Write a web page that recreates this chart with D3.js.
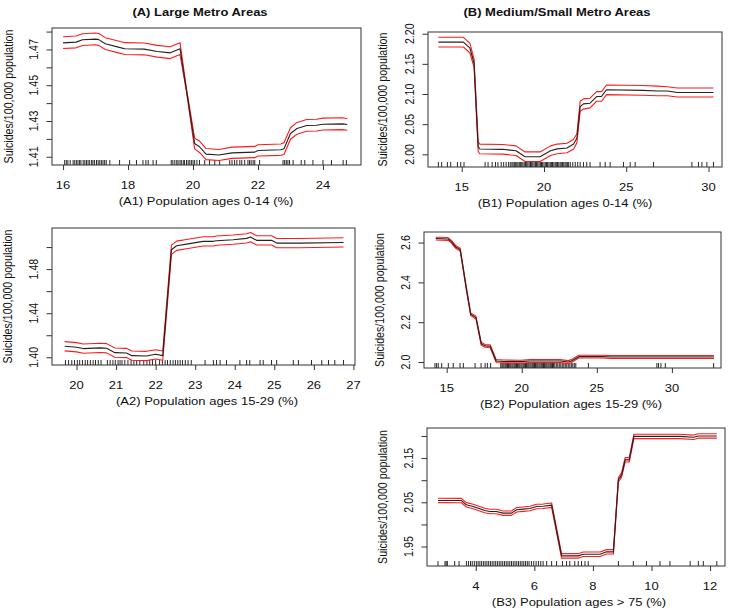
<!DOCTYPE html>
<html><head><meta charset="utf-8">
<script src="https://cdn.jsdelivr.net/npm/d3@7"></script>
<style>html,body{margin:0;padding:0;background:#fff;}svg{display:block;}text{font-family:"Liberation Sans",Arial,Helvetica,sans-serif;fill:#111;}</style>
</head><body>
<svg id="chart" width="733" height="615"></svg>
<script>
// ---------- DATA ----------
const groupTitles = ["(A) Large Metro Areas", "(B) Medium/Small Metro Areas"];
const yAxisTitle = "Suicides/100,000 population";

// A1: Large metro, ages 0-14
const a1X   = [16.0,16.4,16.6,17.0,17.1,17.3,17.7,17.9,18.5,18.9,19.3,19.6,19.8,20.05,20.2,20.4,20.8,21.2,21.9,22.0,22.7,22.8,23.0,23.2,23.5,23.8,24.0,24.6,24.75];
const a1Mid = [1.4737,1.4741,1.4754,1.4758,1.4755,1.4732,1.4713,1.4704,1.4702,1.4689,1.4681,1.4704,1.4470,1.4174,1.4156,1.4115,1.4110,1.4122,1.4126,1.4135,1.4139,1.4145,1.4230,1.4258,1.4275,1.4276,1.4282,1.4284,1.4280];
const a1Hi  = [1.4771,1.4775,1.4788,1.4792,1.4789,1.4766,1.4747,1.4738,1.4736,1.4723,1.4715,1.4738,1.4480,1.4204,1.4188,1.4146,1.4141,1.4154,1.4158,1.4167,1.4171,1.4178,1.4262,1.4292,1.4308,1.4310,1.4316,1.4318,1.4313];
const a1Lo  = [1.4705,1.4709,1.4722,1.4726,1.4723,1.4700,1.4681,1.4672,1.4670,1.4657,1.4649,1.4672,1.4462,1.4144,1.4124,1.4084,1.4079,1.4091,1.4095,1.4104,1.4108,1.4113,1.4198,1.4226,1.4243,1.4244,1.4250,1.4252,1.4248];
const a1Rug = [16.05,16.1,16.15,16.22,16.31,16.36,16.41,16.46,16.51,16.55,16.62,16.67,16.72,16.77,16.82,16.88,16.92,16.97,17.03,17.08,17.13,17.18,17.23,17.28,17.33,17.44,17.74,18.05,18.26,18.46,18.55,18.62,18.77,18.87,19.33,19.38,19.44,19.5,19.54,19.6,19.64,19.7,19.74,19.8,19.85,19.9,19.95,20.0,20.05,20.12,20.2,20.36,20.51,20.67,20.82,21.13,21.2,21.28,21.35,21.44,21.5,21.59,21.69,21.74,21.79,21.85,21.9,22.05,22.77,22.82,22.87,22.92,22.97,23.08,23.33,23.44,23.69,24.0,24.26,24.62,24.72];
const a1XTicks = [16,18,20,22,24];
const a1YTicks = [1.41,1.42,1.43,1.44,1.45,1.46,1.47,1.48];
const a1YLabels = [1.41,1.43,1.45,1.47];

// A2: Large metro, ages 15-29
const a2X   = [19.7,20.0,20.17,20.6,20.76,20.97,21.26,21.4,21.77,22.0,22.18,22.4,22.53,22.78,23.2,23.46,23.54,23.96,24.3,24.4,24.55,24.93,25.06,25.65,26.75];
const a2Mid = [1.4100,1.4091,1.4079,1.4085,1.4082,1.4042,1.4039,1.4015,1.4012,1.4027,1.4015,1.4976,1.5012,1.5027,1.5052,1.5052,1.5058,1.5067,1.5079,1.5091,1.5061,1.5061,1.5036,1.5036,1.5042];
const a2Hi  = [1.4142,1.4133,1.4121,1.4127,1.4124,1.4084,1.4081,1.4057,1.4054,1.4069,1.4057,1.5018,1.5054,1.5069,1.5094,1.5094,1.5100,1.5109,1.5121,1.5133,1.5103,1.5103,1.5078,1.5078,1.5084];
const a2Lo  = [1.4058,1.4049,1.4037,1.4043,1.4040,1.4000,1.3997,1.3973,1.3970,1.3985,1.3973,1.4934,1.4970,1.4985,1.5010,1.5010,1.5016,1.5025,1.5037,1.5049,1.5019,1.5019,1.4994,1.4994,1.5000];
const a2Rug = [19.72,19.8,19.88,19.95,20.02,20.08,20.15,20.22,20.28,20.35,20.42,20.48,20.55,20.62,20.78,20.85,20.92,20.98,21.05,21.1,21.15,21.22,21.3,21.38,21.45,21.52,21.6,21.7,21.78,21.85,21.92,22.0,22.1,22.17,22.24,22.3,22.37,22.44,22.5,22.56,22.62,22.68,22.75,22.82,22.9,23.25,23.46,23.54,23.63,23.79,24.13,24.3,24.38,24.64,24.72,24.93,25.06,25.48,25.61,25.94,26.2,26.37,26.53,26.75];
const a2XTicks = [20,21,22,23,24,25,26,27];
const a2YTicks = [1.40,1.42,1.44,1.46,1.48,1.50];
const a2YLabels = [1.40,1.44,1.48];

// B1: Medium/small metro, ages 0-14
const b1X   = [13.58,15.1,15.5,15.75,16.0,16.1,17.5,18.3,18.85,19.76,20.4,20.8,21.4,21.8,22.0,22.2,22.4,22.8,23.2,23.5,23.8,26.0,26.9,27.5,28.1,30.3];
const b1Mid = [2.186,2.186,2.176,2.151,2.0127,2.0089,2.0083,2.006,1.996,1.996,2.006,2.009,2.0105,2.017,2.0266,2.079,2.0837,2.0848,2.0958,2.096,2.107,2.106,2.105,2.105,2.1025,2.1025];
const b1Hi  = [2.194,2.194,2.184,2.158,2.0207,2.0169,2.0163,2.014,2.004,2.004,2.014,2.017,2.0185,2.025,2.034,2.088,2.092,2.093,2.104,2.104,2.115,2.114,2.113,2.112,2.110,2.110];
const b1Lo  = [2.178,2.178,2.168,2.144,2.0047,2.0009,2.0003,1.998,1.988,1.988,1.998,2.001,2.0025,2.009,2.019,2.072,2.075,2.077,2.088,2.088,2.099,2.098,2.097,2.097,2.095,2.095];
const b1Rug = [13.58,13.78,14.13,14.33,14.74,14.94,15.14,16.42,16.6,16.85,17.05,17.2,17.4,17.55,17.7,17.85,17.95,18.05,18.12,18.2,18.28,18.35,18.42,18.5,18.58,18.65,18.72,18.8,18.88,18.95,19.02,19.1,19.18,19.25,19.32,19.4,19.48,19.55,19.62,19.7,19.78,19.85,19.92,20.0,20.08,20.15,20.22,20.3,20.38,20.45,20.52,20.6,20.68,20.75,20.82,20.9,20.98,21.05,21.12,21.2,21.28,21.35,21.42,21.5,21.6,21.75,21.9,22.05,22.2,22.4,22.6,22.8,23.41,23.72,24.02,24.83,25.24,25.54,26.66,28.99,29.39,29.6,29.9,30.3];
const b1XTicks = [15,20,25,30];
const b1YTicks = [2.00,2.05,2.10,2.15,2.20];
const b1YLabels = [2.00,2.05,2.10,2.15,2.20];

// B2: Medium/small metro, ages 15-29
const b2X   = [14.27,15.1,15.33,15.6,15.9,16.33,16.6,16.95,17.3,17.55,17.9,18.3,18.8,19.9,20.55,22.55,23.1,23.3,23.8,25.4,25.9,32.8];
const b2Mid = [2.620,2.618,2.603,2.578,2.565,2.360,2.240,2.223,2.092,2.081,2.079,2.005,2.003,2.002,2.005,2.005,2.000,2.005,2.027,2.027,2.025,2.025];
const b2Hi  = [2.627,2.625,2.610,2.585,2.572,2.367,2.247,2.230,2.099,2.088,2.086,2.012,2.010,2.009,2.012,2.012,2.007,2.012,2.034,2.034,2.032,2.032];
const b2Lo  = [2.613,2.611,2.596,2.571,2.558,2.353,2.233,2.216,2.085,2.074,2.072,1.998,1.996,1.995,1.998,1.998,1.993,1.998,2.020,2.020,2.018,2.018];
const b2Rug = [14.22,14.33,14.44,14.67,15.11,15.44,15.89,16.11,16.89,17.29,17.56,17.71,17.93,18.6,18.68,18.75,18.82,18.9,18.97,19.05,19.12,19.2,19.27,19.35,19.42,19.5,19.57,19.65,19.72,19.8,19.87,19.95,20.02,20.1,20.17,20.25,20.32,20.4,20.47,20.55,20.62,20.7,20.77,20.85,20.92,21.0,21.07,21.15,21.22,21.3,21.37,21.45,21.52,21.6,21.67,21.75,21.82,21.9,21.97,22.05,22.12,22.2,22.3,22.4,22.5,22.6,22.7,22.8,22.9,23.0,23.1,23.2,23.3,23.4,23.5,23.6,24.44,29.0,29.11,29.27,29.56,32.78];
const b2XTicks = [15,20,25,30];
const b2YTicks = [2.0,2.2,2.4,2.6];
const b2YLabels = [2.0,2.2,2.4,2.6];

// B3: Medium/small metro, ages > 75
const b3X   = [2.71,3.51,3.68,3.91,4.31,4.48,4.7,4.93,5.22,5.39,5.62,5.85,6.07,6.3,6.59,6.93,7.5,7.67,8.24,8.47,8.7,8.87,8.98,9.1,9.24,9.4,10.97,11.43,11.6,12.23];
const b3Mid = [2.0542,2.054,2.0443,2.0406,2.0315,2.0292,2.0292,2.0255,2.0255,2.033,2.0345,2.036,2.0406,2.041,2.0436,1.9289,1.9289,1.9326,1.9326,1.938,1.938,2.101,2.112,2.146,2.146,2.199,2.199,2.197,2.200,2.200];
const b3Hi  = [2.0592,2.059,2.0493,2.0456,2.0365,2.0342,2.0342,2.0305,2.0305,2.038,2.0395,2.041,2.0456,2.046,2.0486,1.9339,1.9339,1.9376,1.9376,1.943,1.943,2.106,2.117,2.151,2.151,2.204,2.204,2.202,2.205,2.205];
const b3Lo  = [2.0492,2.049,2.0393,2.0356,2.0265,2.0242,2.0242,2.0205,2.0205,2.028,2.0295,2.031,2.0356,2.036,2.0386,1.9239,1.9239,1.9276,1.9276,1.933,1.933,2.096,2.107,2.141,2.141,2.194,2.194,2.192,2.195,2.195];
const b3Rug = [2.71,2.95,2.99,3.03,3.28,3.43,3.68,3.75,3.82,3.88,3.95,4.02,4.08,4.14,4.2,4.26,4.32,4.38,4.44,4.5,4.56,4.62,4.68,4.74,4.8,4.86,4.92,4.98,5.04,5.1,5.16,5.22,5.28,5.34,5.4,5.46,5.52,5.58,5.64,5.7,5.76,5.82,5.9,5.98,6.06,6.14,6.22,6.3,6.42,6.59,6.76,6.96,7.1,7.21,7.38,7.5,7.61,7.73,7.84,8.87,9.38,9.83,10.29,10.63,11.32,11.6,11.77,12.23];
const b3XTicks = [4,6,8,10,12];
const b3YTicks = [1.95,2.00,2.05,2.10,2.15,2.20];
const b3YLabels = [1.95,2.05,2.15];

const xTitles = ["(A1) Population ages 0-14 (%)","(A2) Population ages 15-29 (%)","(B1) Population ages 0-14 (%)","(B2) Population ages 15-29 (%)","(B3) Population ages > 75 (%)"];

// ---------- LAYOUT (pixel boxes and axis domains) ----------
const panels = [
  {x:a1X, mid:a1Mid, hi:a1Hi, lo:a1Lo, rug:a1Rug, xt:a1XTicks, yt:a1YTicks, yl:a1YLabels, fmt:d3.format(".2f"), title:xTitles[0],
   box:[52,28,361,165], xd:[15.66,25.17], yd:[1.4054,1.482], xtc:206, ylx:9},
  {x:a2X, mid:a2Mid, hi:a2Hi, lo:a2Lo, rug:a2Rug, xt:a2XTicks, yt:a2YTicks, yl:a2YLabels, fmt:d3.format(".2f"), title:xTitles[1],
   box:[52,228,355,365], xd:[19.38,27.04], yd:[1.393,1.5173], xtc:207, ylx:8},
  {x:b1X, mid:b1Mid, hi:b1Hi, lo:b1Lo, rug:b1Rug, xt:b1XTicks, yt:b1YTicks, yl:b1YLabels, fmt:d3.format(".2f"), title:xTitles[2],
   box:[428,32,722,167], xd:[12.95,30.82], yd:[1.979,2.2028], xtc:565, ylx:383},
  {x:b2X, mid:b2Mid, hi:b2Hi, lo:b2Lo, rug:b2Rug, xt:b2XTicks, yt:b2YTicks, yl:b2YLabels, fmt:d3.format(".1f"), title:xTitles[3],
   box:[424,232,721,368], xd:[13.49,33.27], yd:[1.970,2.653], xtc:571, ylx:380},
  {x:b3X, mid:b3Mid, hi:b3Hi, lo:b3Lo, rug:b3Rug, xt:b3XTicks, yt:b3YTicks, yl:b3YLabels, fmt:d3.format(".2f"), title:xTitles[4],
   box:[427,428,725,566], xd:[2.335,12.51], yd:[1.906,2.218], xtc:579, ylx:383}
];

const SQ = 0.82;   // vertical glyph squish of the reference image
const FS = 13;
const svg = d3.select("#chart");

function hText(x, y, str, opts={}) {
  return svg.append("text")
    .attr("transform", `translate(${x},${y}) scale(1,${SQ})`)
    .attr("text-anchor", opts.anchor || "middle")
    .attr("dominant-baseline", "central")
    .style("font-size", (opts.size||FS)+"px")
    .style("font-weight", opts.bold ? "bold" : "normal")
    .text(str);
}
function vText(x, y, str, opts={}) {
  return svg.append("text")
    .attr("transform", `translate(${x},${y}) scale(1,${SQ}) rotate(-90)`)
    .attr("text-anchor", "middle")
    .attr("dominant-baseline", "central")
    .style("font-size", (opts.size||FS)+"px")
    .text(str);
}

hText(200, 12, groupTitles[0], {bold:true});
hText(557, 12, groupTitles[1], {bold:true});

panels.forEach(p => {
  const [L,T,R,B] = p.box;
  const xs = d3.scaleLinear().domain(p.xd).range([L,R]);
  const ys = d3.scaleLinear().domain(p.yd).range([B,T]);
  const g = svg.append("g");

  // rug
  g.append("g").selectAll("line").data(p.rug).join("line")
    .attr("x1", d=>xs(d)).attr("x2", d=>xs(d))
    .attr("y1", B).attr("y2", B-5)
    .attr("stroke", "#111").attr("stroke-width", 0.9);

  // lines
  const pts = (ys_arr) => p.x.map((v,i)=>[v, ys_arr[i]]);
  const line = d3.line().x(d=>xs(d[0])).y(d=>ys(d[1]));
  [[p.hi,"#ff1a1a"],[p.lo,"#ff1a1a"],[p.mid,"#222"]].forEach(([arr,col]) => {
    g.append("path").attr("d", line(pts(arr))).attr("fill","none")
      .attr("stroke", col).attr("stroke-width", 1.1).attr("stroke-linejoin","round");
  });

  // box
  g.append("rect").attr("x",L).attr("y",T).attr("width",R-L).attr("height",B-T)
    .attr("fill","none").attr("stroke","#333").attr("stroke-width",1);

  // x axis ticks
  const xa = d3.axisBottom(xs).tickValues(p.xt).tickSize(5).tickFormat("");
  const gx = g.append("g").attr("transform",`translate(0,${B})`).call(xa);
  gx.select(".domain").remove();
  gx.selectAll("line").attr("stroke","#333");
  p.xt.forEach(v => hText(xs(v), B+20, String(v)));

  // y axis ticks
  const ya = d3.axisLeft(ys).tickValues(p.yt).tickSize(5.5).tickFormat("");
  const gy = g.append("g").attr("transform",`translate(${L},0)`).call(ya);
  gy.select(".domain").remove();
  gy.selectAll("line").attr("stroke","#333");
  p.yl.forEach(v => vText(L-18, ys(v), p.fmt(v)));

  // titles
  hText(p.xtc, B+36.5, p.title);
  vText(p.ylx, (T+B)/2, yAxisTitle);
});
</script>
</body></html>
